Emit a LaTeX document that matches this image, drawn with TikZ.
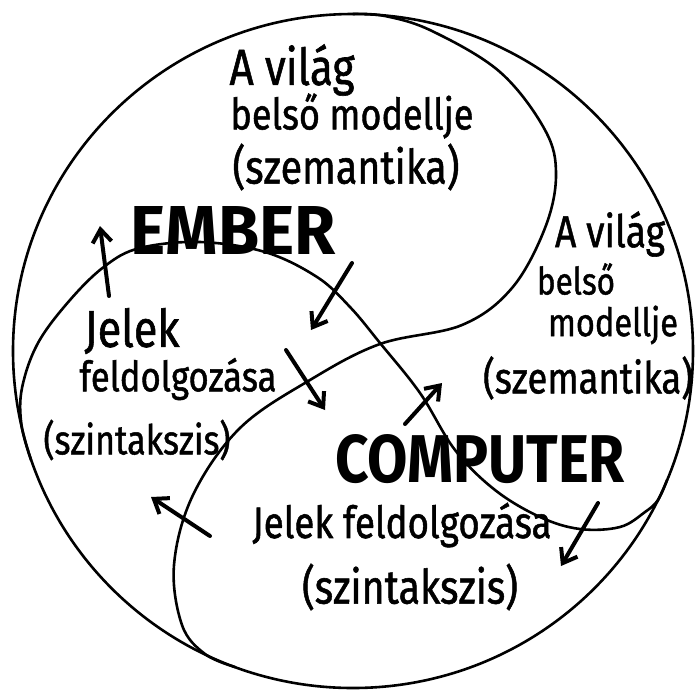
\documentclass[tikz,border=0pt]{standalone}
\usepackage{fontspec}
\setmainfont{Fira Sans}
\newfontfamily\handfont{Fira Sans}[FakeBold=1.2]
\usetikzlibrary{arrows.meta}
\tikzset{
  outline/.style={line width=2.6pt, line cap=round, line join=round},
  flow/.style={line width=4pt, line cap=round, -{Straight Barb[length=13pt,width=19pt,line width=4pt]}},
  hand/.style={inner sep=0pt, font=\fontsize{30}{32}\handfont},
  title/.style={inner sep=0pt, font=\fontsize{60}{60}\selectfont\bfseries},
}
\newcommand{\fitw}[2]{\resizebox{#1pt}{!}{\scalebox{1}[1.2]{#2}}}
\begin{document}
\begin{tikzpicture}[x=1pt,y=-1pt]
\useasboundingbox (0,0) rectangle (695,691);
\fill[white] (0,0) rectangle (695,691);
% outer circle
\draw[outline] (353,351) ellipse[x radius=340pt, y radius=337pt];
% upper (EMBER world) curve
\draw[outline] plot[smooth, tension=0.6] coordinates {
 (353,14) (385,16) (432,31) (500,72) (545,130) (556,175) (545,228) (512,288)
 (462,325) (380,344) (310,380) (240,428) (193,495) (174,565) (182,625) (205,654) (235,667)};
% S curve (EMBER / COMPUTER boundary)
\draw[outline] plot[smooth, tension=0.6] coordinates {
 (31,460) (21.5,425) (22,388) (38,343) (70,300) (105,266) (140,248) (200,242)
 (265,252) (317,277) (350,307) (380,343) (420,393) (455,450) (495,490)
 (540,517) (580,529) (620,527) (645,512) (658,500) (667,480)};
% texts
\node[title] (ember) at (233,230) {\resizebox{205pt}{48pt}{EMBER}};
\node[title] (computer) at (480,459) {\resizebox{290pt}{48pt}{COMPUTER}};
\node[hand] (t1) at (292,70) {\fitw{125}{A világ}};
\node[hand] (t2) at (352,116) {\fitw{243}{belső modellje}};
\node[hand] (t3) at (346,167) {\fitw{227}{(szemantika)}};
\node[hand] (r1) at (610,234) {\fitw{110}{A világ}};
\node[hand] (r2) at (576,279) {\fitw{78}{belső}};
\node[hand] (r3) at (613,325) {\fitw{130}{modellje}};
\node[hand] (r4) at (588,378) {\fitw{210}{(szemantika)}};
\node[hand] (l1) at (132,331) {\fitw{95}{Jelek}};
\node[hand] (l2) at (178,379) {\fitw{197}{feldolgozása}};
\node[hand] (l3) at (137,440) {\fitw{187}{(szintakszis)}};
\node[hand] (b1) at (402,525) {\fitw{299}{Jelek feldolgozása}};
\node[hand] (b2) at (410,587) {\fitw{216}{(szintakszis)}};
% arrows
\coordinate (a1s) at (109,296); \coordinate (a1e) at (100,226);
\coordinate (a2s) at (352,263); \coordinate (a2e) at (311,330);
\coordinate (a3s) at (286,350); \coordinate (a3e) at (325,410);
\coordinate (a4s) at (210,536); \coordinate (a4e) at (151,497);
\coordinate (a5s) at (405,424); \coordinate (a5e) at (442,383);
\coordinate (a6s) at (598,503); \coordinate (a6e) at (561,566);
\draw[flow] (a1s) -- (a1e);
\draw[flow] (a2s) -- (a2e);
\draw[flow] (a3s) -- (a3e);
\draw[flow] (a4s) -- (a4e);
\draw[flow] (a5s) -- (a5e);
\draw[flow] (a6s) -- (a6e);
\end{tikzpicture}
\end{document}
